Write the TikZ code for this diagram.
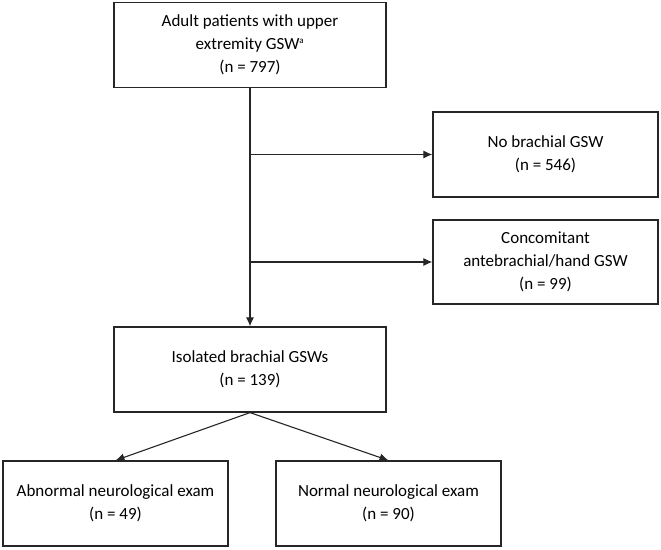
\documentclass[tikz,border=0pt]{standalone}
\usepackage{fontspec}
\setmainfont{Carlito}
\usepackage{tikz}
\usetikzlibrary{arrows.meta,calc}
\pgfkeys{tikz/flowbox/.style={draw=black!85,line width=1.2pt,align=center,inner sep=2pt,font=\fontsize{17}{23}\selectfont}}
\pgfkeys{tikz/widebox/.style={flowbox,minimum width=272pt,minimum height=85pt}}
\pgfkeys{tikz/sidebox/.style={flowbox,minimum width=225pt,minimum height=85pt}}
\pgfkeys{tikz/flowarrow/.style={draw=black!85,line width=1.1pt,-{Latex[length=9pt,width=8pt]}}}
\begin{document}
\begin{tikzpicture}[x=1pt,y=-1pt]
    \useasboundingbox (0,0) rectangle (661,549);
    \node[widebox] (adult) at (250,45) {Adult patients with upper\\extremity GSW\textsuperscript{\fontsize{9}{9}\selectfont a}\\(n = 797)};
    \node[sidebox] (nobrachial) at (545.5,154.5) {No brachial GSW\\(n = 546)};
    \node[sidebox,minimum height=84pt] (concomitant) at (545.5,262) {Concomitant\\antebrachial/hand GSW\\(n = 99)};
    \node[widebox] (isolated) at (250,369.5) {Isolated brachial GSWs\\(n = 139)};
    \node[sidebox] (abnormal) at (115.5,503.5) {Abnormal neurological exam\\(n = 49)};
    \node[sidebox] (normal) at (388.5,503.5) {Normal neurological exam\\(n = 90)};
    \coordinate (split1) at (adult.south |- nobrachial.west);
    \coordinate (split2) at (adult.south |- concomitant.west);
    \draw[flowarrow] (adult.south) -- (isolated.north);
    \draw[flowarrow] (split1) -- (nobrachial.west);
    \draw[flowarrow] (split2) -- (concomitant.west);
    \draw[flowarrow] (isolated.south) -- (abnormal.north);
    \draw[flowarrow] (isolated.south) -- (normal.north);
\end{tikzpicture}
\end{document}
